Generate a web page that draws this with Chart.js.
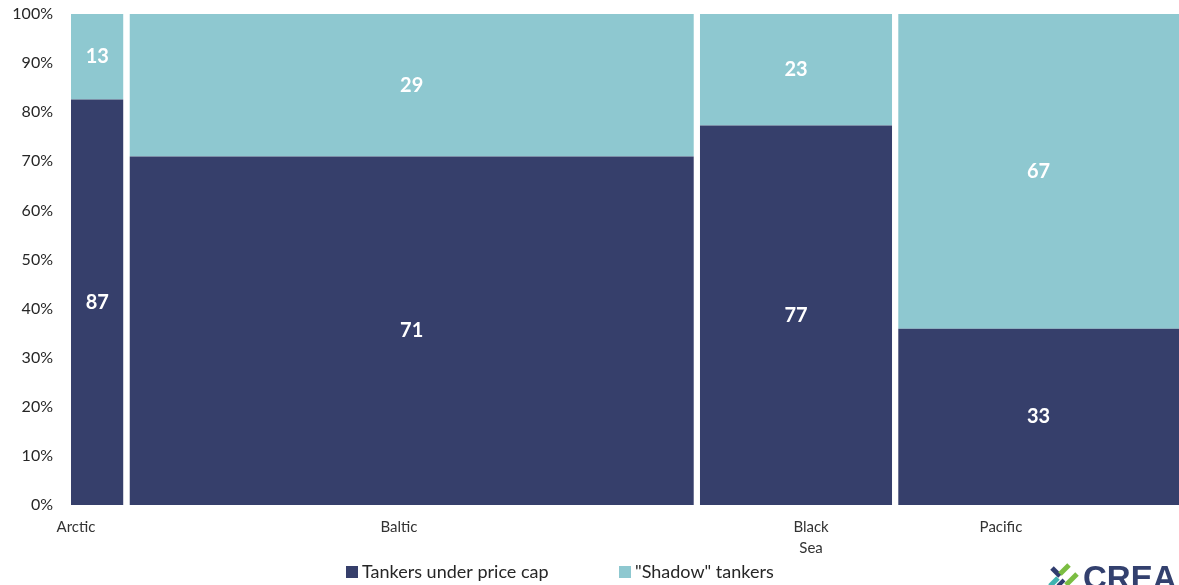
<!DOCTYPE html>
<html><head><meta charset="utf-8">
<script src="https://cdn.jsdelivr.net/npm/chart.js@4"></script>
<style>html,body{margin:0;padding:0;background:#fff;}#wrap{width:1179px;height:585px;position:relative;}</style>
</head><body><div id="wrap"><canvas id="c"></canvas></div>
<script>
const categories = ['Arctic', 'Baltic', 'Black Sea', 'Pacific'];
const categoryTickLabels = [['Arctic'], ['Baltic'], ['Black', 'Sea'], ['Pacific']];
const widthShares = [5.25, 51.2, 17.8, 25.75];        // share of x extent per region
const underCapHeights = [82.6, 71.0, 77.3, 35.9];    // drawn height of dark segment (%)
const underCapLabels = ['87', '71', '77', '33'];
const shadowLabels = ['13', '29', '23', '67'];
const categoryTickPos = [0.45, 29.44, 66.43, 83.48]; // x-axis label positions (x units)
const yTickValues = [0, 10, 20, 30, 40, 50, 60, 70, 80, 90, 100];
const seriesNames = ['Tankers under price cap', '"Shadow" tankers'];

const DARK = '#363f6b', LIGHT = '#8ec8d0';
const GAP = 0.54;
const FONT = "Lato, 'Open Sans', sans-serif";

const bounds = [];
let cum = 0;
widthShares.forEach(w => { bounds.push([cum, cum + w - GAP]); cum += w; });
const xMax = cum - GAP;

const datasets = [];
categories.forEach((c, i) => {
  const [x0, x1] = bounds[i], h = underCapHeights[i];
  datasets.push({label: seriesNames[0] + ' ' + c, data: [{x: x0, y: h}, {x: x1, y: h}],
    fill: 'origin', backgroundColor: DARK, borderColor: 'rgba(0,0,0,0)', borderWidth: 0, pointRadius: 0, order: 1});
  datasets.push({label: seriesNames[1] + ' ' + c, data: [{x: x0, y: 100}, {x: x1, y: 100}],
    fill: {value: h}, backgroundColor: LIGHT, borderColor: 'rgba(0,0,0,0)', borderWidth: 0, pointRadius: 0, order: 2});
});

const labelPlugin = {
  id: 'segLabels',
  afterDatasetsDraw(chart) {
    const {ctx, scales: {x, y}} = chart;
    ctx.save();
    ctx.fillStyle = '#ffffff';
    ctx.font = 'bold 20px ' + FONT;
    ctx.textAlign = 'center';
    ctx.textBaseline = 'middle';
    categories.forEach((c, i) => {
      const [x0, x1] = bounds[i], h = underCapHeights[i];
      const xc = x.getPixelForValue((x0 + x1) / 2);
      ctx.fillText(underCapLabels[i], xc, y.getPixelForValue(h / 2));
      ctx.fillText(shadowLabels[i], xc, y.getPixelForValue((h + 100) / 2));
    });
    ctx.restore();
  }
};

const legendLogoPlugin = {
  id: 'legendLogo',
  afterDraw(chart) {
    const ctx = chart.ctx;
    ctx.save();
    ctx.font = '18px ' + FONT;
    ctx.textBaseline = 'middle';
    ctx.textAlign = 'left';
    const items = [[346, DARK, seriesNames[0]], [619, LIGHT, seriesNames[1]]];
    items.forEach(([bx, col, txt]) => {
      ctx.fillStyle = col;
      ctx.fillRect(bx, 566, 12, 12);
      ctx.fillStyle = '#262626';
      ctx.fillText(txt, bx + 16, 572);
    });
    // logo
    ctx.lineCap = 'butt';
    const stripe = (col, x0, y0, x1, y1, w) => {
      ctx.strokeStyle = col; ctx.lineWidth = w;
      ctx.beginPath(); ctx.moveTo(x0, y0); ctx.lineTo(x1, y1); ctx.stroke();
    };
    stripe('#2f3c6e', 1052, 568, 1060, 576, 5);
    stripe('#7bbd42', 1060, 574, 1069, 565, 5);
    stripe('#7bbd42', 1066, 585, 1077, 574, 5);
    stripe('#3fb3b0', 1050, 586, 1058, 578, 5);
    stripe('#2f3c6e', 1058, 586, 1064, 580, 4);
    ctx.fillStyle = '#33406e';
    ctx.font = "bold 33px 'Liberation Sans', Arial, sans-serif";
    ctx.textBaseline = 'alphabetic';
    ctx.fillText('CREA', 1083, 589);
    ctx.restore();
  }
};

new Chart(document.getElementById('c'), {
  type: 'line',
  data: {datasets},
  options: {
    responsive: true, maintainAspectRatio: false, animation: false,
    layout: {padding: {top: 14, right: 0, bottom: 14, left: 0}},
    plugins: {legend: {display: false}, tooltip: {enabled: false}},
    scales: {
      x: {
        type: 'linear', min: 0, max: xMax,
        grid: {display: false, drawTicks: false}, border: {display: false},
        afterBuildTicks(scale) { scale.ticks = categoryTickPos.map(v => ({value: v})); },
        afterFit(scale) { scale.paddingLeft = 0; scale.paddingRight = 0; },
        ticks: {autoSkip: false, maxRotation: 0, padding: 12, color: '#333',
          font: {family: FONT, size: 15, lineHeight: 1.4},
          callback(v, i) { return categoryTickLabels[i]; }}
      },
      y: {
        min: 0, max: 100,
        grid: {display: false, drawTicks: false}, border: {display: false},
        afterBuildTicks(scale) { scale.ticks = yTickValues.map(v => ({value: v})); },
        afterFit(scale) { scale.width = 71; scale.paddingTop = 0; scale.paddingBottom = 0; },
        ticks: {padding: 18, color: '#262626', font: {family: FONT, size: 16},
          callback(v) { return v + '%'; }}
      }
    }
  },
  plugins: [labelPlugin, legendLogoPlugin]
});
</script></body></html>
